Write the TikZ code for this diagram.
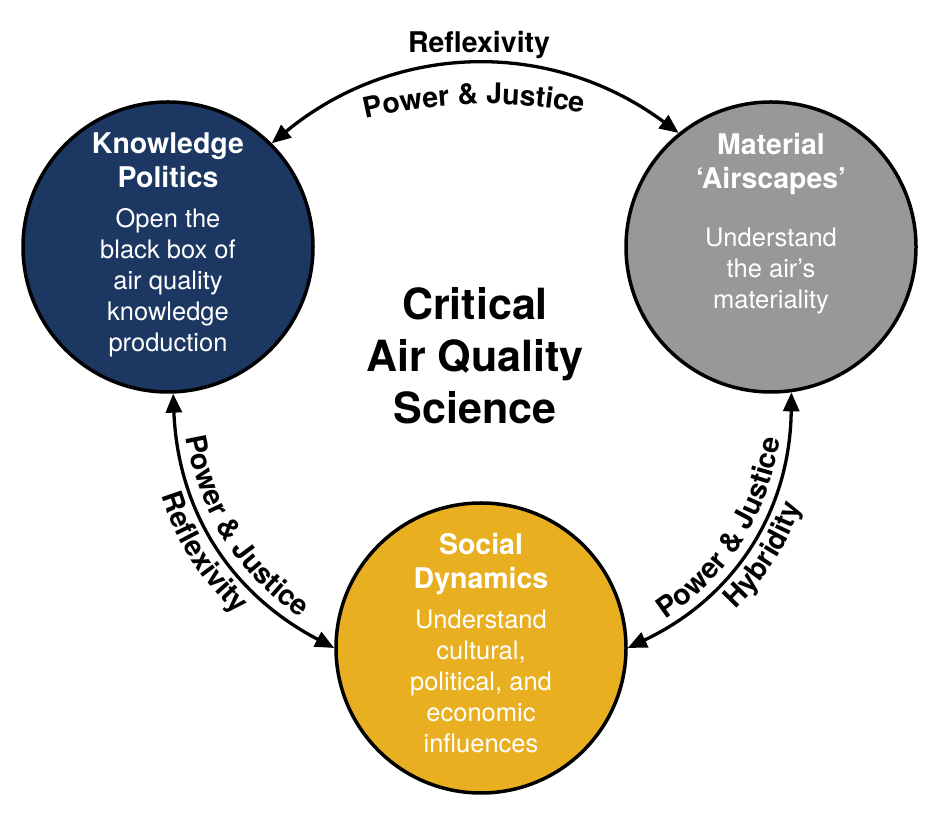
\documentclass[tikz,border=0pt]{standalone}
\usepackage{fontspec}
\setmainfont{TeX Gyre Heros}
\usepackage{xcolor}
\usepackage{tikz}
\usetikzlibrary{arrows.meta, decorations.text, calc}
\definecolor{kpblue}{HTML}{1B3762}
\definecolor{magray}{HTML}{96989A}
\definecolor{sdgold}{HTML}{E8B021}
\newcommand{\hubtitle}{\fontsize{28.5}{34}\selectfont\bfseries}
\newcommand{\arcfont}{\fontsize{28.5}{34}\selectfont\bfseries}
\tikzstyle{hub} = [circle, minimum size=290pt, inner sep=0pt, draw=black, line width=3.5pt]
\tikzstyle{hubtext} = [align=center, inner sep=0pt, text=white, anchor=north, font=\fontsize{25.5}{31}\selectfont]
\tikzstyle{coretext} = [align=center, inner sep=0pt, anchor=north, font=\fontsize{43}{52}\selectfont\bfseries]
\tikzstyle{arclabel} = [inner sep=0pt, anchor=base, font=\arcfont]
\tikzstyle{link} = [line width=3.3pt, {Triangle[length=19pt,width=16pt]}-{Triangle[length=19pt,width=16pt]}]
\begin{document}
\begin{tikzpicture}[x=1pt, y=1pt]
    \useasboundingbox (0,0) rectangle (936,824);

    % the three themes
    \node (kp) [hub, fill=kpblue] at (168,577) {};
    \node (ma) [hub, fill=magray] at (771,577) {};
    \node (sd) [hub, fill=sdgold] at (481,176) {};

    \node (kptext) [hubtext] at ([yshift=114pt]kp.center) {{\hubtitle Knowledge}\\[3pt] {\hubtitle Politics}\\[9pt] Open the\\ black box of\\ air quality\\ knowledge\\ production};
    \node (matext) [hubtext] at ([yshift=114pt]ma.center) {{\hubtitle Material}\\[3pt] {\hubtitle ‘Airscapes’}\\[27pt] Understand\\ the air’s\\ materiality};
    \node (sdtext) [hubtext] at ([yshift=115pt]sd.center) {{\hubtitle Social}\\[3pt] {\hubtitle Dynamics}\\[9pt] Understand\\ cultural,\\ political, and\\ economic\\ influences};

    \node (core) [coretext] at (475,537) {Critical\\ Air Quality\\ Science};

    % connectors
    \draw [link] (kp.45) to[bend left=38] (ma.129);
    \draw [link] (kp.-88) to[bend right=30] (sd.180);
    \draw [link] (ma.-82) to[bend left=32] (sd.0);

    % connector labels
    \node (toplabel) [arclabel] at (479,771) {Reflexivity};
    \path [decorate, decoration={text along path, text={|\arcfont|Power {\&} Justice}, text align=center, raise=-3pt}] (kp.45) to[bend left=18] (ma.129);
    \path [decorate, decoration={text along path, text={|\arcfont|Power {\&} Justice}, text align=center}] ([shift={(8,5)}]kp.-88) to[bend right=30] ([shift={(8,5)}]sd.180);
    \path [decorate, decoration={text along path, text={|\arcfont|Reflexivity}, text align=center}] ([shift={(-25,-16)}]kp.-88) to[bend right=30] ([shift={(-25,-16)}]sd.180);
    \path [decorate, decoration={text along path, text={|\arcfont|Power {\&} Justice}, text align=center}] ([shift={(-7,4)}]sd.0) to[bend right=32] ([shift={(-7,4)}]ma.-82);
    \path [decorate, decoration={text along path, text={|\arcfont|Hybridity}, text align=center}] ([shift={(25,-16)}]sd.0) to[bend right=32] ([shift={(25,-16)}]ma.-82);
\end{tikzpicture}
\end{document}
